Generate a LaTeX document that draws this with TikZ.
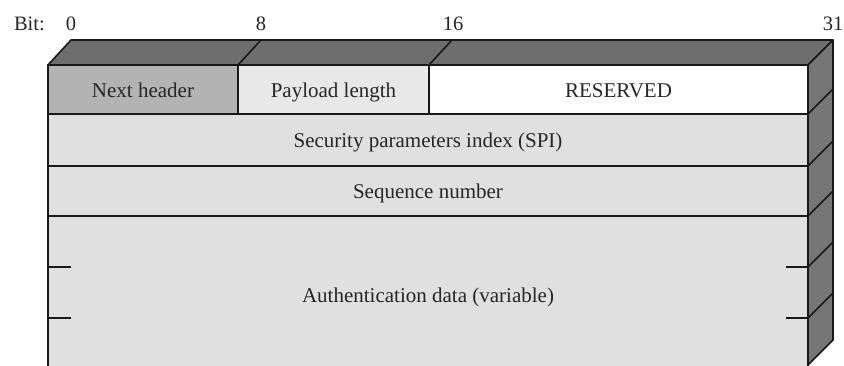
\documentclass[tikz,border=0pt]{standalone}
\usepackage{fontspec}
\setmainfont{Liberation Serif}
\begin{document}
\begin{tikzpicture}[x=1pt,y=-1pt,
  edge/.style={draw=black!90,line width=1.6pt,line join=round},
  lbl/.style={font=\fontsize{21}{24}\selectfont,text=black!85,inner sep=0pt,anchor=base},
  bitlbl/.style={font=\fontsize{20.5}{24}\selectfont,text=black!85,inner sep=0pt}]
\definecolor{topgray}{HTML}{6E6E6E}
\definecolor{sidegray}{HTML}{767676}
\definecolor{nhgray}{HTML}{B3B3B3}
\definecolor{plgray}{HTML}{E8E8E8}
\definecolor{rowgray}{HTML}{E0E0E0}
\useasboundingbox (0,0) rectangle (844,365);
% fills
\fill[rowgray] (48,114) rectangle (808,366);
\fill[nhgray] (48,65) rectangle (238,114);
\fill[plgray] (238,65) rectangle (429,114);
\fill[white] (429,65) rectangle (808,114);
\path[edge,fill=topgray] (48,65) -- (71,40) -- (833,40) -- (808,65) -- cycle;
\path[edge,fill=sidegray] (808,65) -- (833,40) -- (833,340) -- (808,365);
% top dividers
\draw[edge] (238,65) -- (261,40);
\draw[edge] (429,65) -- (452,40);
% front outline
\draw[edge] (48,366) -- (48,65) -- (808,65) -- (808,366);
\draw[edge] (238,65) -- (238,114);
\draw[edge] (429,65) -- (429,114);
\foreach \y in {114,166,216} {
  \draw[edge] (48,\y) -- (808,\y);
  \draw[edge] (808,\y) -- (833,\y-25);
}
\foreach \y in {267,318} {
  \draw[edge] (48,\y) -- (71,\y);
  \draw[edge] (786,\y) -- (808,\y);
  \draw[edge] (808,\y) -- (833,\y-25);
}
% labels
\node[bitlbl,anchor=base east] (bit) at (45,30) {Bit:};
\node[bitlbl,anchor=base] (b0) at (71,30) {0};
\node[bitlbl,anchor=base] (b8) at (261,30) {8};
\node[bitlbl,anchor=base] (b16) at (453,30) {16};
\node[bitlbl,anchor=base] (b31) at (833,30) {31};
\node[lbl] (nh) at (143,97) {Next header};
\node[lbl] (pl) at (333.5,97) {Payload length};
\node[lbl] (res) at (618.5,97) {RESERVED};
\node[lbl] (spi) at (428,147) {Security parameters index (SPI)};
\node[lbl] (seq) at (428,198) {Sequence number};
\node[lbl] (auth) at (428,302) {Authentication data (variable)};
\end{tikzpicture}
\end{document}
